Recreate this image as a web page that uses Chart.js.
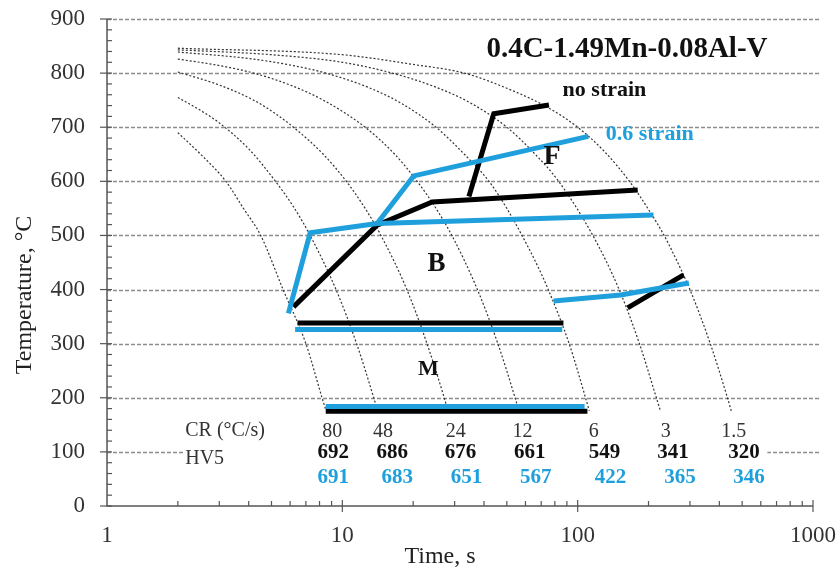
<!DOCTYPE html>
<html>
<head>
<meta charset="utf-8">
<title>CCT diagram 0.4C-1.49Mn-0.08Al-V</title>
<script src="https://cdn.jsdelivr.net/npm/chart.js@4.4.1/dist/chart.umd.min.js"></script>
<style>
  html, body { margin: 0; padding: 0; background: #fff; }
  canvas { display: block; }
</style>
</head>
<body>
<canvas id="cct" width="840" height="570"></canvas>
<script>
const SERIF = '"Liberation Serif", "Times New Roman", serif';
const BLUE = '#1fa0dc';

// cooling curves, [time s, temperature °C]
const cool80 = [[2, 690], [2.5, 650], [3.2, 600], [3.8, 550], [4.5, 500], [5.6, 400], [7.0, 300], [8.2, 200], [8.5, 178]];
const cool48 = [[2, 755], [2.5, 731], [3, 708], [4, 660], [5.2, 600], [6.2, 553], [7.3, 500], [9.4, 400], [11.5, 300], [13.6, 200], [14.1, 177]];
const cool24 = [[2, 802], [3, 778], [4.2, 750], [5.2, 725], [6.2, 700], [8.3, 650], [10.4, 600], [12.5, 550], [14.6, 500], [18.8, 400], [22.9, 300], [27.1, 200], [28.1, 176]];
const cool12 = [[2, 826], [3, 814], [4.2, 800], [6, 778], [8.3, 750], [12.5, 700], [16.7, 650], [20.8, 600], [25, 550], [29.2, 500], [37.5, 400], [45.8, 300], [54.2, 200], [56.3, 175]];
const cool6 = [[2, 839], [4, 827], [6, 815], [8.5, 800], [13, 773], [18, 743], [25, 700], [33, 650], [42, 600], [50, 550], [58, 500], [67, 447], [75, 400], [92, 300], [108, 200], [112, 176]];
const cool3 = [[2, 843], [5, 834], [10, 820], [16.3, 800], [25, 774], [35, 745], [50, 700], [66, 650], [83, 600], [116, 500], [150, 400], [183, 300], [216, 200], [225, 175]];
const cool1p5 = [[2, 846], [10, 834], [20, 816], [33, 800], [50, 772], [75, 736], [100, 700], [130, 655], [166, 600], [200, 548], [233, 500], [266, 450], [300, 400], [366, 300], [433, 200], [450, 175]];

// transformation lines, no strain
const bsNoStrain = [[6.2, 368], [14.05, 519], [24.1, 562], [180, 584]];
const fsNoStrain = [[34.5, 572], [44, 725], [75.5, 741]];
const psNoStrain = [[163, 366], [282, 427]];
const msNoStrain = [[6.45, 338], [87, 338]];
const mfNoStrain = [[8.5, 175], [110, 175]];

// transformation lines, 0.6 strain
const bsStrain = [[5.9, 356], [7.3, 505], [14.05, 522], [210, 538]];
const fsStrain = [[14.05, 522], [20.1, 610], [111, 683]];
const psStrain = [[79, 379], [152.5, 390], [297, 412]];
const msStrain = [[6.3, 326], [86, 326]];
const mfStrain = [[8.5, 184], [107, 184]];

// table under the curves
const coolingRates = ['80', '48', '24', '12', '6', '3', '1.5'];
const hvNoStrain = [692, 686, 676, 661, 549, 341, 320];
const hvStrain = [691, 683, 651, 567, 422, 365, 346];

const xTickLabels = [1, 10, 100, 1000];
const yGrid = [100, 200, 300, 400, 500, 600, 700, 800, 900];

const pts = arr => arr.map(([x, y]) => ({ x, y }));

const thick = (data, color) => ({
  data: pts(data), borderColor: color, borderWidth: 5, pointRadius: 0, tension: 0, borderCapStyle: 'butt'
});
const dotted = data => ({
  data: pts(data), borderColor: '#333', borderWidth: 1.2, borderDash: [2, 2],
  pointRadius: 0, cubicInterpolationMode: 'monotone'
});

// column anchors (time) for the table rows
const crCol = [9.07, 14.9, 30.3, 58.3, 117, 237, 461];
const hvCol = [9.16, 16.3, 31.8, 62.5, 130, 254, 509];
const hv2Col = [9.16, 17.1, 33.7, 66.3, 138, 272, 534];

function text(ctx, str, px, py, font, color, align) {
  ctx.font = font;
  ctx.fillStyle = color;
  ctx.textAlign = align || 'center';
  ctx.textBaseline = 'middle';
  ctx.fillText(str, px, py);
}

const decor = {
  id: 'decor',
  beforeDatasetsDraw(chart) {
    const { ctx, chartArea: a, scales: { x, y } } = chart;
    ctx.save();
    ctx.strokeStyle = '#8c8c8c';
    ctx.lineWidth = 1.5;
    ctx.setLineDash([4, 2]);
    yGrid.forEach(v => {
      const py = Math.round(y.getPixelForValue(v)) + 0.5;
      ctx.beginPath();
      ctx.moveTo(a.left, py);
      ctx.lineTo(a.right + 7, py);
      ctx.stroke();
    });
    ctx.setLineDash([]);
    // white box for the rate / hardness table
    const bx0 = x.getPixelForValue(2.12), bx1 = x.getPixelForValue(640);
    const by0 = y.getPixelForValue(163), by1 = y.getPixelForValue(12);
    ctx.fillStyle = '#fff';
    ctx.fillRect(bx0, by0, bx1 - bx0, by1 - by0);
    ctx.restore();
  },
  afterDraw(chart) {
    const { ctx, chartArea: a, scales: { x, y } } = chart;
    ctx.save();
    // axes
    ctx.strokeStyle = '#555';
    ctx.lineWidth = 1.5;
    ctx.beginPath();
    ctx.moveTo(a.left, a.top);
    ctx.lineTo(a.left, a.bottom);
    ctx.lineTo(a.right, a.bottom);
    ctx.stroke();
    ctx.lineWidth = 1.2;
    for (let v = 0; v <= 900; v += 20) {
      const py = y.getPixelForValue(v);
      ctx.beginPath();
      if (v % 100 === 0) { ctx.moveTo(a.left - 7, py); ctx.lineTo(a.left + 5, py); }
      else { ctx.moveTo(a.left, py); ctx.lineTo(a.left + 5, py); }
      ctx.stroke();
    }
    for (let d = 1; d < 1000; d *= 10) {
      for (let k = 1; k <= 10; k++) {
        const px = x.getPixelForValue(d * k);
        ctx.beginPath();
        if (k === 10) { ctx.moveTo(px, a.bottom - 6); ctx.lineTo(px, a.bottom + 6); }
        else if (k > 1) { ctx.moveTo(px, a.bottom - 5); ctx.lineTo(px, a.bottom); }
        ctx.stroke();
      }
    }

    // axis titles
    ctx.save();
    ctx.translate(25, 295);
    ctx.rotate(-Math.PI / 2);
    text(ctx, 'Temperature, °C', 0, 0, '24px ' + SERIF, '#222');
    ctx.restore();
    text(ctx, 'Time, s', 440, 557, '24px ' + SERIF, '#222');

    const X = t => x.getPixelForValue(t), Y = T => y.getPixelForValue(T);
    text(ctx, '0.4C-1.49Mn-0.08Al-V', X(162), Y(843), 'bold 29px ' + SERIF, '#111');
    text(ctx, 'no strain', X(86.3), Y(769), 'bold 22px ' + SERIF, '#111', 'left');
    text(ctx, '0.6 strain', X(131.6), Y(686), 'bold 22px ' + SERIF, BLUE, 'left');
    text(ctx, 'F', X(77.8), Y(645), 'bold 28px ' + SERIF, '#111');
    text(ctx, 'B', X(25.1), Y(447), 'bold 27px ' + SERIF, '#111');
    text(ctx, 'M', X(23.2), Y(253), 'bold 22px ' + SERIF, '#111');

    text(ctx, 'CR (°C/s)', X(2.15), Y(139), '20px ' + SERIF, '#333', 'left');
    text(ctx, 'HV5', X(2.15), Y(87), '20px ' + SERIF, '#333', 'left');
    coolingRates.forEach((r, i) => text(ctx, r, X(crCol[i]), Y(137), '20px ' + SERIF, '#333'));
    hvNoStrain.forEach((h, i) => text(ctx, String(h), X(hvCol[i]), Y(98), 'bold 21px ' + SERIF, '#111'));
    hvStrain.forEach((h, i) => text(ctx, String(h), X(hv2Col[i]), Y(52), 'bold 21px ' + SERIF, BLUE));
    ctx.restore();
  }
};

new Chart(document.getElementById('cct'), {
  type: 'line',
  data: {
    datasets: [
      thick(bsStrain, BLUE), thick(fsStrain, BLUE), thick(psStrain, BLUE),
      thick(msStrain, BLUE), thick(mfStrain, BLUE),
      thick(bsNoStrain, '#000'), thick(fsNoStrain, '#000'), thick(psNoStrain, '#000'),
      thick(msNoStrain, '#000'), thick(mfNoStrain, '#000'),
      dotted(cool80), dotted(cool48), dotted(cool24), dotted(cool12),
      dotted(cool6), dotted(cool3), dotted(cool1p5)
    ]
  },
  options: {
    responsive: false,
    animation: false,
    devicePixelRatio: 1,
    layout: { padding: { top: 19, right: 27, left: 0, bottom: 0 } },
    plugins: { legend: { display: false }, tooltip: { enabled: false } },
    scales: {
      x: {
        type: 'logarithmic',
        min: 1,
        max: 1000,
        grid: { display: false, drawTicks: false },
        border: { display: false },
        afterFit: s => { s.height = 64; s.paddingLeft = 0; s.paddingRight = 0; },
        ticks: {
          autoSkip: false,
          maxRotation: 0,
          padding: 16,
          color: '#333',
          font: { family: SERIF, size: 23 },
          callback: v => xTickLabels.includes(v) ? String(v) : ''
        }
      },
      y: {
        min: 0,
        max: 900,
        grid: { display: false, drawTicks: false },
        border: { display: false },
        afterFit: s => { s.width = 107; s.paddingTop = 0; s.paddingBottom = 0; },
        ticks: {
          stepSize: 100,
          padding: 22,
          color: '#333',
          font: { family: SERIF, size: 23 }
        }
      }
    }
  },
  plugins: [decor]
});
</script>
</body>
</html>
